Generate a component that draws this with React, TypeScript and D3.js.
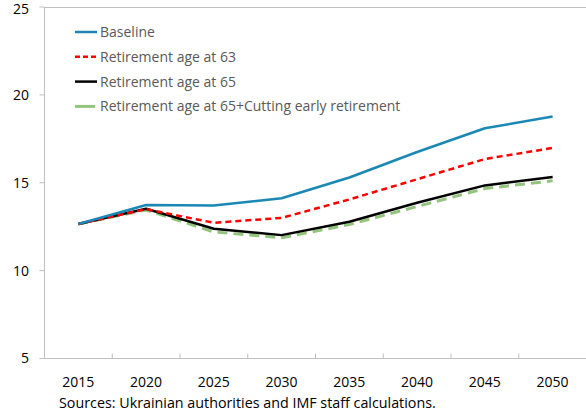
import React from "react";
import * as d3 from "d3";

const years = ["2015", "2020", "2025", "2030", "2035", "2040", "2045", "2050"];
const baseline = [12.65, 13.73, 13.7, 14.12, 15.3, 16.75, 18.1, 18.77];
const age63 = [12.65, 13.5, 12.72, 13.0, 14.05, 15.2, 16.35, 16.98];
const age65 = [12.65, 13.52, 12.38, 12.02, 12.78, 13.86, 14.85, 15.33];
const age65Cut = [12.65, 13.45, 12.2, 11.87, 12.62, 13.65, 14.67, 15.11];
const yTicks = [5, 10, 15, 20, 25];
const seriesNames = [
  "Baseline",
  "Retirement age at 63",
  "Retirement age at 65",
  "Retirement age at 65+Cutting early retirement",
];
const source = "Sources: Ukrainian authorities and IMF staff calculations.";

const W = 586;
const H = 418;
const left = 44.5;
const right = 586.5;
const top = 7;
const bottom = 358.5;

export default function App() {
  const x = d3.scaleBand<string>().domain(years).range([left, right]);
  const y = d3.scaleLinear().domain([5, 25]).range([bottom, top]);
  const cx = (d: string) => (x(d) as number) + x.bandwidth() / 2;
  const line = (vals: number[]) =>
    d3.line<number>().x((_, i) => cx(years[i])).y((v) => y(v))(vals) as string;

  const styles = [
    { color: "#1a87b5", width: 2.5, dash: "" },
    { color: "#ff0000", width: 2.5, dash: "6,4" },
    { color: "#000000", width: 2.5, dash: "" },
    { color: "#93c47d", width: 3, dash: "10,6" },
  ];
  const data = [baseline, age63, age65, age65Cut];
  const drawOrder = [3, 2, 1, 0];
  const font = "'Open Sans', sans-serif";
  const axisColor = "#bfbfbf";

  return (
    <svg
      width={W}
      height={H}
      style={{ position: "absolute", left: 0, top: 0, background: "#fff" }}
      fontFamily={font}
    >
      <line x1={left} x2={right} y1={top + 0.5} y2={top + 0.5} stroke={axisColor} strokeWidth={1} />
      <line x1={left} x2={left} y1={top} y2={bottom} stroke={axisColor} strokeWidth={1} />
      <line x1={left} x2={right} y1={bottom} y2={bottom} stroke={axisColor} strokeWidth={1} />
      {yTicks.map((t) => (
        <g key={t}>
          <line x1={left - 5} x2={left} y1={y(t)} y2={y(t)} stroke={axisColor} />
          <text x={29} y={Math.max(y(t), 9)} dy="0.35em" textAnchor="end" fontSize={14} fill="#000">
            {t}
          </text>
        </g>
      ))}
      {years.map((yr, i) =>
        i > 0 ? (
          <line
            key={"t" + yr}
            x1={x(yr) as number}
            x2={x(yr) as number}
            y1={bottom}
            y2={bottom - 5}
            stroke={axisColor}
          />
        ) : null
      )}
      {years.map((yr) => (
        <text key={yr} x={cx(yr)} y={382} dy="0.35em" textAnchor="middle" fontSize={14} fill="#000">
          {yr}
        </text>
      ))}
      {drawOrder.map((k) => (
        <path
          key={k}
          d={line(data[k])}
          fill="none"
          stroke={styles[k].color}
          strokeWidth={styles[k].width}
          strokeDasharray={styles[k].dash}
          strokeLinejoin="round"
        />
      ))}
      {seriesNames.map((n, k) => {
        const ly = 32 + k * 24.8;
        return (
          <g key={n}>
            <line
              x1={75}
              x2={k === 3 ? 95 : 97}
              y1={ly}
              y2={ly}
              stroke={styles[k].color}
              strokeWidth={styles[k].width}
              strokeDasharray={k === 1 ? "5,3" : ""}
            />
            <text x={100} y={ly} dy="0.35em" fontSize={14} fill="#595959">
              {n}
            </text>
          </g>
        );
      })}
      <text x={59} y={403} dy="0.35em" fontSize={14.3} fill="#000">
        {source}
      </text>
    </svg>
  );
}
